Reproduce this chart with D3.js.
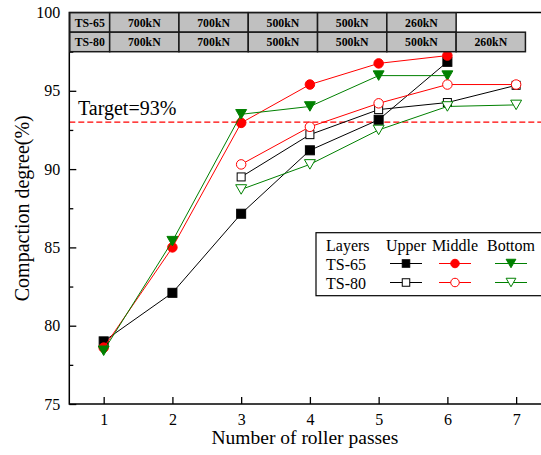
<!DOCTYPE html>
<html>
<head>
<meta charset="utf-8">
<script src="https://cdn.jsdelivr.net/npm/d3@7/dist/d3.min.js"></script>
<style>
  html, body { margin: 0; padding: 0; background: #fff; }
  svg { display: block; }
</style>
</head>
<body>
<svg id="chart" width="541" height="455" font-family="Liberation Serif, Times New Roman, serif"></svg>
<script>
// Compaction degree (%) after each roller pass, by layer and roller type
const passes65 = [1, 2, 3, 4, 5, 6];
const passes80 = [3, 4, 5, 6, 7];
const ts65Upper  = [79.0, 82.1, 87.15, 91.2, 93.15, 96.85];
const ts65Middle = [78.6, 85.0, 92.95, 95.4, 96.75, 97.25];
const ts65Bottom = [78.4, 85.4, 93.5, 94.0, 95.97, 95.97];
const ts80Upper  = [89.5, 92.2, 93.8, 94.25, 95.35];
const ts80Middle = [90.3, 92.7, 94.2, 95.4, 95.4];
const ts80Bottom = [88.7, 90.3, 92.5, 94.0, 94.1];

// Roller loads used on each pass
const ts65Loads = ["700kN", "700kN", "500kN", "500kN", "260kN"];
const ts80Loads = ["700kN", "700kN", "500kN", "500kN", "500kN", "260kN"];

const target = 93;
const yTicks = [75, 77.5, 80, 82.5, 85, 87.5, 90, 92.5, 95, 97.5, 100];
const xTicks = [1, 2, 3, 4, 5, 6, 7];

const RED = "#ff0000", GREEN = "#008000", BLACK = "#000000";
const SERIF = "Liberation Serif, Times New Roman, serif";

const series = [
  { name: "TS-65 Upper",  x: passes65, y: ts65Upper,  color: BLACK, shape: "square",   filled: true },
  { name: "TS-65 Middle", x: passes65, y: ts65Middle, color: RED,   shape: "circle",   filled: true },
  { name: "TS-65 Bottom", x: passes65, y: ts65Bottom, color: GREEN, shape: "triangle", filled: true },
  { name: "TS-80 Upper",  x: passes80, y: ts80Upper,  color: BLACK, shape: "square",   filled: false },
  { name: "TS-80 Middle", x: passes80, y: ts80Middle, color: RED,   shape: "circle",   filled: false },
  { name: "TS-80 Bottom", x: passes80, y: ts80Bottom, color: GREEN, shape: "triangle", filled: false }
];

const svg = d3.select("#chart");

const x = d3.scaleLinear().domain([0.5, 7.5]).range([69.3, 550.5]);
const y = d3.scaleLinear().domain([75, 100]).range([404, 12.5]);

// Target line and label
svg.append("line")
  .attr("x1", x(0.5)).attr("x2", x(7.5))
  .attr("y1", y(target)).attr("y2", y(target))
  .attr("stroke", RED).attr("stroke-width", 1.2)
  .attr("stroke-dasharray", "6,3");
svg.append("text")
  .attr("x", 78).attr("y", 115)
  .attr("font-size", 20)
  .text("Target=" + target + "%");

// Marker drawing
function marker(g, shape, cx, cy, size, color, filled) {
  const fill = filled ? color : "#fff";
  if (shape === "square") {
    g.append("rect")
      .attr("x", cx - size / 2).attr("y", cy - size / 2)
      .attr("width", size).attr("height", size)
      .attr("fill", fill).attr("stroke", color).attr("stroke-width", 1);
  } else if (shape === "circle") {
    g.append("circle")
      .attr("cx", cx).attr("cy", cy).attr("r", size / 2)
      .attr("fill", fill).attr("stroke", color).attr("stroke-width", 1);
  } else {
    const w = size * 1.15, h = size;
    g.append("path")
      .attr("d", `M${cx - w / 2},${cy - h / 2}L${cx + w / 2},${cy - h / 2}L${cx},${cy + h / 2}Z`)
      .attr("fill", fill).attr("stroke", color).attr("stroke-width", 1);
  }
}

const line = d3.line().x(d => x(d[0])).y(d => y(d[1]));

series.forEach(s => {
  const pts = s.x.map((v, i) => [v, s.y[i]]);
  const g = svg.append("g");
  g.append("path").attr("d", line(pts))
    .attr("fill", "none").attr("stroke", s.color).attr("stroke-width", 1);
  pts.forEach(p => {
    const sz = s.shape === "square" ? (s.filled ? 9 : 8) : 9.5;
    marker(g, s.shape, x(p[0]), y(p[1]), sz, s.color, s.filled);
  });
});

// Axes
const yAxis = d3.axisLeft(y).tickValues(yTicks)
  .tickSizeInner(-7).tickSizeOuter(0).tickPadding(9)
  .tickFormat(d => (d % 5 === 0 ? d3.format("d")(d) : ""));
const gy = svg.append("g").attr("transform", `translate(${x(0.5)},0)`).call(yAxis)
  .attr("font-family", SERIF);
gy.select(".domain").remove();
gy.selectAll(".tick line")
  .attr("x2", d => (d % 5 === 0 ? 7 : 4))
  .attr("stroke-width", 1.3);
gy.selectAll("text").attr("font-size", 16).attr("fill", "#000");

const xAxis = d3.axisBottom(x).tickValues(xTicks)
  .tickSizeInner(-7).tickSizeOuter(0).tickPadding(9.5)
  .tickFormat(d3.format("d"));
const gx = svg.append("g").attr("transform", `translate(0,${y(75)})`).call(xAxis)
  .attr("font-family", SERIF);
gx.select(".domain").remove();
gx.selectAll(".tick line").attr("stroke-width", 1.3);
gx.selectAll("text").attr("font-size", 16).attr("fill", "#000");

// Frame
svg.append("rect")
  .attr("x", x(0.5)).attr("y", y(100))
  .attr("width", x(7.5) - x(0.5)).attr("height", y(75) - y(100))
  .attr("fill", "none").attr("stroke", "#000").attr("stroke-width", 1.5);

// Axis titles
svg.append("text")
  .attr("x", (x(0.5) + x(7.5)) / 2 - 5).attr("y", 444)
  .attr("text-anchor", "middle").attr("font-size", 19.5)
  .text("Number of roller passes");
svg.append("text")
  .attr("transform", `translate(29,${(y(75) + y(100)) / 2}) rotate(-90)`)
  .attr("text-anchor", "middle").attr("font-size", 20)
  .text("Compaction degree(%)");

// Roller load table along the top of the plot
const tableStart = 1.08, cellW = 1.008;
const rowH = 19.5;
function tableRow(label, loads, top) {
  const g = svg.append("g");
  const cells = [{ t: label, a: 0.5, b: tableStart }].concat(
    loads.map((l, i) => ({ t: l, a: tableStart + i * cellW, b: tableStart + (i + 1) * cellW })));
  cells.forEach(c => {
    g.append("rect")
      .attr("x", x(c.a) + 0.5).attr("y", top)
      .attr("width", x(c.b) - x(c.a)).attr("height", rowH)
      .attr("fill", "#c0c0c0").attr("stroke", "#1a1a1a").attr("stroke-width", 1.5);
    g.append("text")
      .attr("x", (x(c.a) + x(c.b)) / 2 + 0.5).attr("y", top + 14)
      .attr("text-anchor", "middle").attr("font-size", 11.8).attr("font-weight", "bold")
      .text(c.t);
  });
}
tableRow("TS-65", ts65Loads, y(100) + 0.2);
tableRow("TS-80", ts80Loads, y(100) + 0.2 + rowH);

// Legend
const leg = svg.append("g");
leg.append("rect")
  .attr("x", 316).attr("y", 232.7).attr("width", 232).attr("height", 63)
  .attr("fill", "#fff").attr("stroke", "#000").attr("stroke-width", 1.2);
const colX = [406, 455, 511];
const headers = ["Upper", "Middle", "Bottom"];
leg.append("text").attr("x", 326).attr("y", 250.7).attr("font-size", 16).text("Layers");
headers.forEach((h, i) => {
  leg.append("text").attr("x", colX[i]).attr("y", 250.7)
    .attr("text-anchor", "middle").attr("font-size", 16).text(h);
});
const legRows = [
  { label: "TS-65", y: 263.5, items: series.slice(0, 3) },
  { label: "TS-80", y: 282.5, items: series.slice(3, 6) }
];
legRows.forEach(r => {
  leg.append("text").attr("x", 326).attr("y", r.y + 6).attr("font-size", 16).text(r.label);
  r.items.forEach((s, i) => {
    leg.append("line")
      .attr("x1", colX[i] - 16).attr("x2", colX[i] + 16)
      .attr("y1", r.y).attr("y2", r.y)
      .attr("stroke", s.color).attr("stroke-width", 1);
    marker(leg, s.shape, colX[i], r.y, s.shape === "square" ? 7.5 : 8.5, s.color, s.filled);
  });
});
</script>
</body>
</html>
